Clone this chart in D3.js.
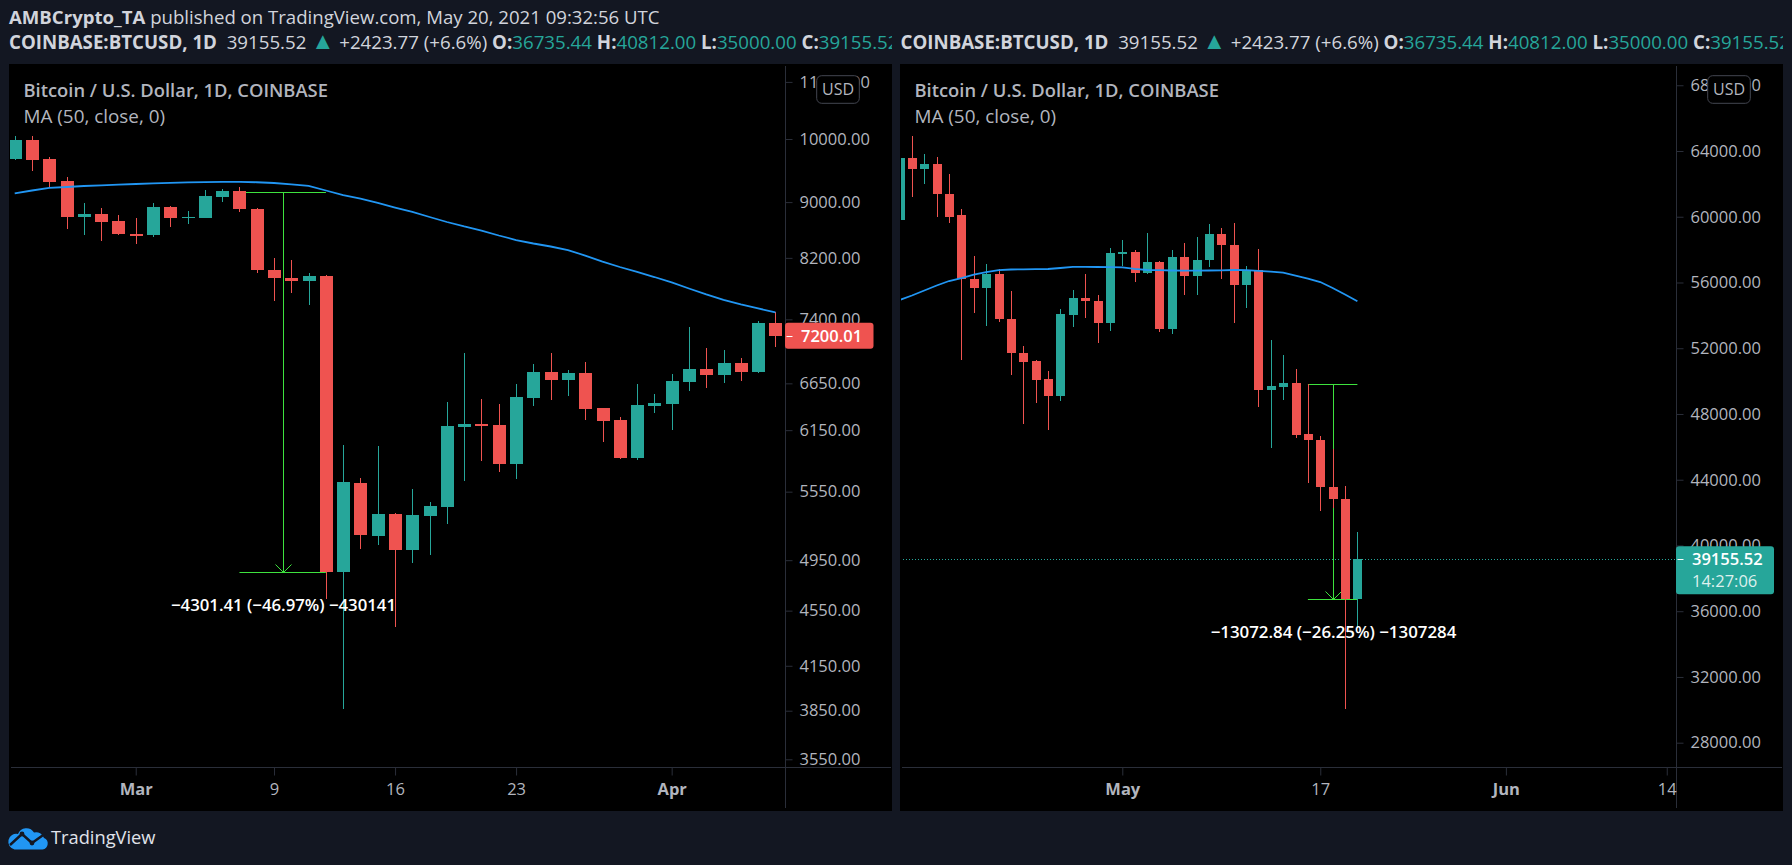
<!DOCTYPE html>
<html><head><meta charset="utf-8">
<script src="https://cdn.jsdelivr.net/npm/d3@7"></script>
<style>
html,body{margin:0;padding:0;background:#131722;overflow:hidden;}
svg{display:block;}
text{font-family:"Open Sans","Noto Sans",sans-serif;white-space:pre;}
</style></head><body>
<svg id="chart" width="1792" height="865"></svg>
<script>
// ---------------- DATA ----------------
const p1Dates = ["2020-02-23","2020-02-24","2020-02-25","2020-02-26","2020-02-27","2020-02-28","2020-02-29",
"2020-03-01","2020-03-02","2020-03-03","2020-03-04","2020-03-05","2020-03-06","2020-03-07","2020-03-08","2020-03-09","2020-03-10",
"2020-03-11","2020-03-12","2020-03-13","2020-03-14","2020-03-15","2020-03-16","2020-03-17","2020-03-18","2020-03-19","2020-03-20",
"2020-03-21","2020-03-22","2020-03-23","2020-03-24","2020-03-25","2020-03-26","2020-03-27","2020-03-28","2020-03-29","2020-03-30","2020-03-31",
"2020-04-01","2020-04-02","2020-04-03","2020-04-04","2020-04-05","2020-04-06","2020-04-07"];
const p1Open = [9672,9983,9665,9323,8784,8822,8720, 8530,8524,8927,8760,8769,9082,9168,8902,8036,7933,
7894,7956,4856,5631,5155,5347,5035,5330,5413,6186, 6214,6204,5815,6490,6778,6691,6767,6383,6258,5874,6406,
6430,6670,6808,6747,6877,6778,7350];
const p1High = [10050,10050,9699,9390,8983,8912,8804, 8765,8983,8946,8868,9184,9204,9230,8910,8194,8171,
7995,7975,5997,5680,5990,5357,5576,5455,6447,6999, 6479,6425,6643,6868,6999,6800,6891,6385,6284,6643,6533,
6751,7310,7054,7031,6937,7380,7488];
const p1Low = [9660,9485,9235,8610,8524,8438,8520, 8396,8495,8638,8681,8760,9006,8857,7999,7634,7737,
7583,4642,3859,5043,5077,4430,4930,4994,5262,5653, 5844,5735,5672,6406,6468,6514,6258,6033,5864,5855,6333,
6152,6570,6602,6657,6680,6767,7070];
const p1Close = [9983,9660,9312,8784,8822,8706,8530, 8520,8927,8769,8779,9092,9168,8902,8036,7933,7894,
7956,4856,5641,5163,5347,5035,5338,5419,6193,6214, 6196,5815,6500,6778,6691,6767,6372,6249,5874,6411,6436,
6673,6808,6747,6877,6778,7356,7200.01];
const p1MA = [9133,9176,9217,9230,9245,9256,9266, 9276,9286,9295,9300,9304,9308,9308,9303,9292,9272,
9248,9176,9105,9054,8987,8919,8853,8779,8706,8641, 8583,8512,8448,8399,8357,8308,8232,8150,8076,8009,7942,
7870,7791,7714,7644,7587,7536,7486];

const p2Dates = ["2021-04-13","2021-04-14","2021-04-15","2021-04-16","2021-04-17","2021-04-18","2021-04-19","2021-04-20","2021-04-21","2021-04-22",
"2021-04-23","2021-04-24","2021-04-25","2021-04-26","2021-04-27","2021-04-28","2021-04-29","2021-04-30",
"2021-05-01","2021-05-02","2021-05-03","2021-05-04","2021-05-05","2021-05-06","2021-05-07","2021-05-08","2021-05-09","2021-05-10",
"2021-05-11","2021-05-12","2021-05-13","2021-05-14","2021-05-15","2021-05-16","2021-05-17","2021-05-18","2021-05-19","2021-05-20"];
const p2Open = [59801,63555,62922,63208,61401,60105,56212,55664,56516,53778, 51691,51223,50128,49111,54021,55055,54891,53553,
57733,57854,56577,57246,53188,57550,56412,57368,58949,58280, 55847,56759,49458,49641,49884,46781,46416,43575,42845,36735.44];
const p2High = [63800,64912,63817,63634,62600,60470,57611,57124,56820,55500, 52135,51284,50614,54368,55542,56516,55238,58116,
58585,57976,59010,57300,57976,58402,58767,59558,59314,59619, 57002,58037,52500,51588,50736,49823,46660,45869,43618,40812];
const p2Low = [59801,61219,62010,60002,59637,51284,54161,53370,53614,50371, 47390,48686,47025,48789,53309,53857,52336,53066,
57002,56029,56516,53005,52884,55256,55256,56942,56212,53553, 54465,48442,45948,48850,46538,43818,42097,42297,30032,35000];
const p2Close = [63555,62922,63208,61401,60002,56212,55664,56516,53778,51691, 51180,50067,49111,54082,55055,54891,53553,57793,
57854,56577,57246,53188,57550,56412,57368,58949,58280,55847, 56759,49458,49702,49884,46721,46416,43575,42845,36724,39155.52];
const p2MA = [54934,55208,55512,55816,56090,56272,56485,56637,56747,56790, 56802,56814,56820,56881,56954,56954,56942,56929,
56923,56832,56759,56747,56729,56717,56717,56729,56741,56759, 56747,56711,56662,56595,56424,56242,56029,55664,55268,54855];

const p1PriceTicks = [3550,3850,4150,4550,4950,5550,6150,6650,7400,8200,9000,10000,11000];
const p2PriceTicks = [28000,32000,36000,40000,44000,48000,52000,56000,60000,64000,68000];
const p1TimeTicks = ["2020-03-01","2020-03-09","2020-03-16","2020-03-23","2020-04-01"];
const p2TimeTicks = ["2021-05-01","2021-05-17","2021-06-01","2021-06-14"];

const p1Measure = {start:"2020-03-07", end:"2020-03-12", from:9157.8, to:4856.39, label:"\u22124301.41 (\u221246.97%) \u2212430141"};
const p2Measure = {start:"2021-05-16", end:"2021-05-20", from:49801.2, to:36728.36, label:"\u221213072.84 (\u221226.25%) \u22121307284"};

const p1LastPrice = ["7200.01"];
const p2LastPrice = ["39155.52","14:27:06"];

const headerLine1 = [["AMBCrypto_TA",700,"txt"],[" published on TradingView.com, May 20, 2021 09:32:56 UTC",400,"txt"]];
const headerLine2 = [["COINBASE:BTCUSD, 1D",700,"txt"],["  39155.52 ",400,"txt"],["\u25B2",400,"up"],[" +2423.77 (+6.6%) ",400,"txt"],
 ["O:",700,"txt"],["36735.44",400,"up"],[" H:",700,"txt"],["40812.00",400,"up"],[" L:",700,"txt"],["35000.00",400,"up"],
 [" C:",700,"txt"],["39155.52",400,"up"]];
const paneTitle = "Bitcoin / U.S. Dollar, 1D, COINBASE";
const paneStudy = "MA (50, close, 0)";

// ---------------- STYLE ----------------
const BG="#131722", UP="#26a69a", DOWN="#ef5350", TXT="#d1d4dc", AX="#b2b5be", GRIDC="#2a2e39", MAC="#2196f3", MEAS="#3ee23e";
const FONT='"Open Sans","Noto Sans",sans-serif';
const parseD = d3.utcParse("%Y-%m-%d");

const svg = d3.select("#chart");
const defs = svg.append("defs");
svg.append("rect").attr("width",1792).attr("height",865).attr("fill",BG);

function fitText(sel, target){
  const w = sel.node().getBBox().width;
  if (w>0) sel.attr("font-size", (+sel.attr("font-size"))*target/w);
  return sel;
}

function drawPanel(cfg, d){
  const g = svg.append("g");
  g.append("rect").attr("x",cfg.left).attr("y",cfg.top).attr("width",cfg.right-cfg.left).attr("height",cfg.bottom-cfg.top).attr("fill","#000");

  const cid = "plot"+cfg.id;
  defs.append("clipPath").attr("id",cid).append("rect")
    .attr("x",cfg.left+1).attr("y",cfg.top+1).attr("width",cfg.axisX-cfg.left-1).attr("height",cfg.axisY-cfg.top-1);

  const rows = d.dates.map((s,i)=>({date:parseD(s),o:d.open[i],h:d.high[i],l:d.low[i],c:d.close[i],ma:d.ma[i]}));
  const x = d3.scaleUtc().domain([rows[0].date, rows[rows.length-1].date]).range(cfg.xRange);
  const y = (cfg.log ? d3.scaleLog() : d3.scaleLinear()).domain(cfg.yDomain).range(cfg.yRange);

  const plot = g.append("g").attr("clip-path",`url(#${cid})`);

  if (cfg.dotted){
    const ly = Math.round(y(d.close[d.close.length-1]))+0.5;
    plot.append("line").attr("x1",cfg.left).attr("x2",cfg.axisX).attr("y1",ly).attr("y2",ly)
      .attr("stroke",UP).attr("stroke-width",1).attr("stroke-dasharray","1,2");
  }

  // measure tool (behind candles)
  const m = d.measure;
  const mx1 = x(parseD(m.start)), mx2 = x(parseD(m.end)), my1 = Math.round(y(m.from))+0.5, my2 = Math.round(y(m.to))+0.5;
  const mxc = Math.round((mx1+mx2)/2)+0.5;
  const mg = plot.append("g").attr("stroke",MEAS).attr("stroke-width",1).attr("fill","none");
  mg.append("line").attr("x1",mx1).attr("x2",mx2).attr("y1",my1).attr("y2",my1);
  mg.append("line").attr("x1",mx1).attr("x2",mx2).attr("y1",my2).attr("y2",my2);
  mg.append("line").attr("x1",mxc).attr("x2",mxc).attr("y1",my1).attr("y2",my2);
  mg.append("path").attr("d",`M${mxc-8},${my2-8}L${mxc},${my2}L${mxc+8},${my2-8}`);

  // candles
  const cg = plot.append("g").attr("shape-rendering","crispEdges");
  const cx = r => Math.round(x(r.date))+0.5;
  cg.selectAll("line.wick").data(rows).join("line").attr("class","wick")
    .attr("x1",cx).attr("x2",cx).attr("y1",r=>y(r.h)).attr("y2",r=>y(r.l))
    .attr("stroke",r=>r.c>=r.o?UP:DOWN).attr("stroke-width",1);
  cg.selectAll("rect.body").data(rows).join("rect").attr("class","body")
    .attr("x",r=>cx(r)-cfg.bodyW/2).attr("width",cfg.bodyW)
    .attr("y",r=>Math.min(y(r.o),y(r.c)))
    .attr("height",r=>Math.max(1.5,Math.abs(y(r.o)-y(r.c))))
    .attr("fill",r=>r.c>=r.o?UP:DOWN);

  // moving average
  plot.append("path").datum(rows)
    .attr("d",d3.line().x(r=>x(r.date)).y(r=>y(r.ma)))
    .attr("fill","none").attr("stroke",MAC).attr("stroke-width",1.8);

  // measure label
  const ml = g.append("text").attr("x",mxc).attr("y",my2+33).attr("dy","0.35em").attr("text-anchor","middle")
    .attr("fill","#ffffff").attr("font-weight",600).attr("font-size",16).style("font-family",FONT).text(m.label);
  fitText(ml, cfg.measureW);

  // axis lines
  g.append("line").attr("x1",cfg.axisX).attr("x2",cfg.axisX).attr("y1",cfg.top+2).attr("y2",cfg.bottom-3).attr("stroke",GRIDC);
  g.append("line").attr("x1",cfg.left+2).attr("x2",cfg.right-1).attr("y1",cfg.axisY).attr("y2",cfg.axisY).attr("stroke",GRIDC);

  // price axis
  const ya = g.append("g").attr("transform",`translate(${cfg.axisX},0)`)
    .call(d3.axisRight(y).tickValues(cfg.priceTicks).tickFormat(d3.format(".2f")).tickSize(7).tickPadding(7));
  ya.attr("font-family",null).attr("font-size",null);
  ya.select(".domain").remove();
  ya.selectAll(".tick line").attr("stroke",GRIDC);
  ya.selectAll(".tick text").attr("fill",AX).attr("font-size",16.5).style("font-family",FONT);

  // time axis
  const isMonth = dt => dt.getUTCDate()===1;
  const xa = g.append("g").attr("transform",`translate(0,${cfg.axisY})`)
    .call(d3.axisBottom(x).tickValues(cfg.timeTicks.map(parseD))
      .tickFormat(dt => isMonth(dt) ? d3.utcFormat("%b")(dt) : d3.utcFormat("%-d")(dt)).tickSize(8).tickPadding(8));
  xa.attr("font-family",null).attr("font-size",null);
  xa.select(".domain").remove();
  xa.selectAll(".tick line").attr("stroke",GRIDC);
  xa.selectAll(".tick text").attr("fill",AX).attr("font-size",16.5).style("font-family",FONT)
    .attr("font-weight",dt=>isMonth(dt)?700:400);

  // titles
  const t1 = g.append("text").attr("x",cfg.left+14.5).attr("y",90.7).attr("dy","0.35em").attr("fill",AX)
    .attr("font-weight",600).attr("font-size",17).style("font-family",FONT).text(paneTitle);
  fitText(t1, 304.7);
  const t2 = g.append("text").attr("x",cfg.left+14.5).attr("y",116.7).attr("dy","0.35em").attr("fill",AX)
    .attr("font-weight",400).attr("font-size",17).style("font-family",FONT).text(paneStudy);
  fitText(t2, 141.7);

  // USD badge
  g.append("rect").attr("x",cfg.axisX+31.2).attr("y",75.7).attr("width",42.6).attr("height",27.6).attr("rx",5)
    .attr("fill","#000").attr("stroke","#434651").attr("stroke-width",1);
  g.append("text").attr("x",cfg.axisX+31.2+21.3).attr("y",89.5).attr("dy","0.35em").attr("text-anchor","middle")
    .attr("fill",AX).attr("font-size",16).style("font-family",FONT).text("USD");

  // last price label
  const lp = d.close[d.close.length-1];
  const lpy = y(lp);
  const last = rows[rows.length-1];
  const col = last.c>=last.o?UP:DOWN;
  const lg = g.append("g");
  lg.append("rect").attr("x",cfg.axisX-0.5).attr("y",lpy-13).attr("width",cfg.lpW).attr("height",cfg.lpH).attr("rx",3).attr("fill",col);
  lg.append("line").attr("x1",cfg.axisX+1).attr("x2",cfg.axisX+7).attr("y1",Math.round(lpy)+0.5).attr("y2",Math.round(lpy)+0.5)
    .attr("stroke","#fff").attr("stroke-width",1);
  d.lastLabels.forEach((s,i)=>{
    lg.append("text").attr("x",cfg.axisX+15.5).attr("y",lpy+i*21.4).attr("dy","0.35em")
      .attr("fill", i===0 ? "#ffffff" : "rgba(255,255,255,0.85)").attr("font-weight",i===0?600:400)
      .attr("font-size",16.5).style("font-family",FONT).text(s);
  });
}

drawPanel({id:1,left:9,right:892,top:64,bottom:811,axisX:785.5,axisY:767.5,xRange:[14.7,775.4],
  log:true,yDomain:[3550,10000],yRange:[759.3,139],bodyW:13,priceTicks:p1PriceTicks,timeTicks:p1TimeTicks,
  measureW:225,lpW:88.5,lpH:26,dotted:false},
  {dates:p1Dates,open:p1Open,high:p1High,low:p1Low,close:p1Close,ma:p1MA,measure:p1Measure,lastLabels:p1LastPrice});

drawPanel({id:2,left:900,right:1783,top:64,bottom:811,axisX:1676.5,axisY:767.5,xRange:[899.55,1357.4],
  log:false,yDomain:[28000,64000],yRange:[742.7,151],bodyW:9,priceTicks:p2PriceTicks,timeTicks:p2TimeTicks,
  measureW:245.7,lpW:98,lpH:48,dotted:true},
  {dates:p2Dates,open:p2Open,high:p2High,low:p2Low,close:p2Close,ma:p2MA,measure:p2Measure,lastLabels:p2LastPrice});

// ---------------- HEADER ----------------
const colorOf = k => k==="up"?UP:TXT;
function buildLine(parent, parts, x, yv, size){
  const t = parent.append("text").attr("x",x).attr("y",yv).attr("dy","0.35em").attr("font-size",size).style("font-family",FONT);
  parts.forEach(p=>{
    const ts = t.append("tspan").attr("font-weight",p[1]).attr("fill",colorOf(p[2])).text(p[0]);
    if (p[0]==="\u25B2") ts.attr("font-size",size*1.25);
  });
  return t;
}
const l1 = buildLine(svg, headerLine1, 9, 17.5, 16);
fitText(l1, 651);
const tmp = buildLine(svg, headerLine2.slice(0,10), 9, -100, 16);
const w2 = tmp.node().getBBox().width; tmp.remove();
const size2 = 16*788/w2;
defs.append("clipPath").attr("id","hclip1").append("rect").attr("x",0).attr("y",0).attr("width",892).attr("height",64);
defs.append("clipPath").attr("id","hclip2").append("rect").attr("x",900).attr("y",0).attr("width",883).attr("height",64);
buildLine(svg.append("g").attr("clip-path","url(#hclip1)"), headerLine2, 9, 42.5, size2);
buildLine(svg.append("g").attr("clip-path","url(#hclip2)"), headerLine2, 900.5, 42.5, size2);

// ---------------- LOGO ----------------
const logo = svg.append("g");
logo.append("path").attr("fill","#2196f3")
  .attr("d","M14.5,849.5 H42.5 A6,6 0 0 0 44,838 A8,8 0 0 0 34,832.5 A9,9 0 0 0 18,834 A7.5,7.5 0 0 0 14.5,849.5 Z");
logo.append("path").attr("fill","none").attr("stroke",BG).attr("stroke-width",2.4).attr("stroke-linejoin","round")
  .attr("d","M10,845 L22,834 L32,843 L46,833");
logo.append("circle").attr("cx",22).attr("cy",834).attr("r",2.4).attr("fill",BG);
logo.append("circle").attr("cx",32).attr("cy",843).attr("r",2.4).attr("fill",BG);
const tv = svg.append("text").attr("x",51).attr("y",837.5).attr("dy","0.35em").attr("fill","#e0e3eb").attr("font-size",20)
  .style("font-family",FONT).text("TradingView");
fitText(tv, 105);
</script>
</body></html>
